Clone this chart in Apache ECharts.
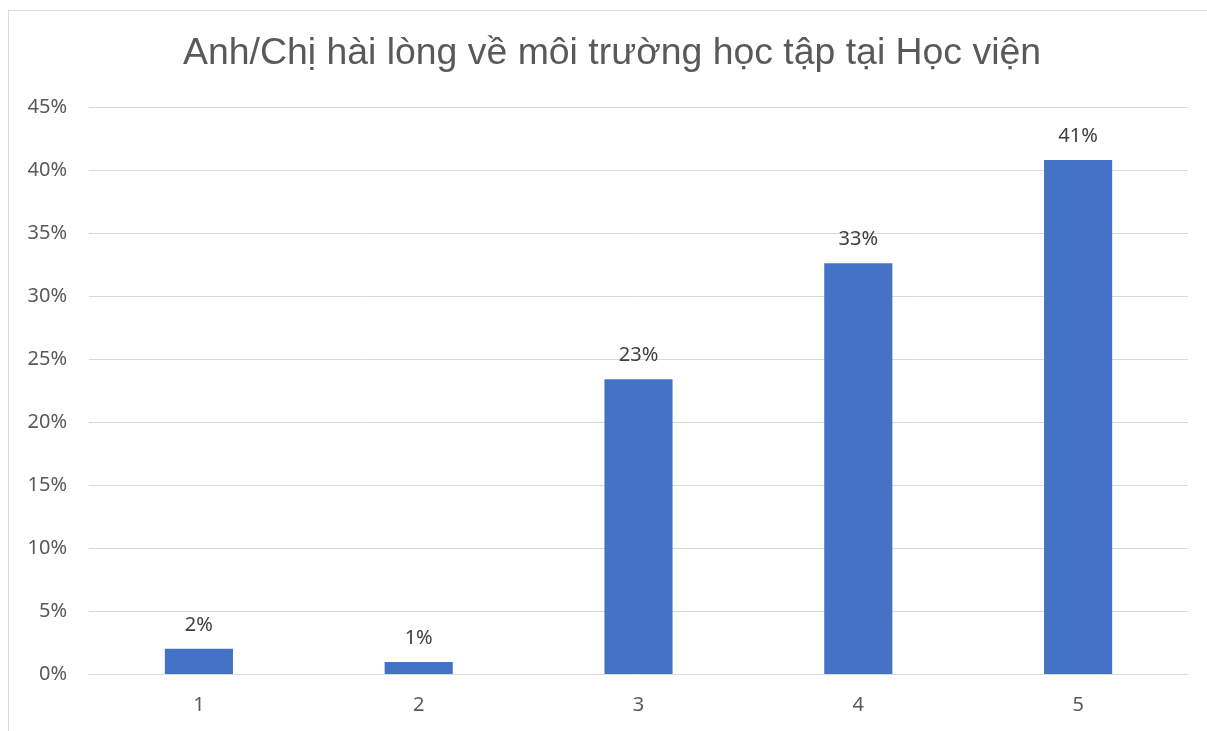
<!DOCTYPE html>
<html>
<head>
<meta charset="utf-8">
<script src="https://cdn.jsdelivr.net/npm/echarts@6/dist/echarts.min.js"></script>
<style>
  html, body { margin: 0; padding: 0; background: #fff; overflow: hidden; }
  #frame {
    position: absolute; left: 8px; top: 10px;
    width: 1220px; height: 740px;
    border: 1px solid #d9d9d9; box-sizing: border-box;
  }
  #chart { position: absolute; left: 0; top: 0; width: 1207px; height: 731px; }
</style>
</head>
<body>
<div id="frame"></div>
<div id="chart"></div>
<script>
// dữ liệu
const categories = ['1', '2', '3', '4', '5']
const percentages = [2.0, 0.95, 23.4, 32.6, 40.8]
const barLabels = ['2%', '1%', '23%', '33%', '41%']

const chart = echarts.init(document.getElementById('chart'))

const option = {
  animation: false,
  title: {
    text: 'Anh/Chị hài lòng về môi trường học tập tại Học viện',
    left: 178,
    top: 30,
    textStyle: {
      fontFamily: 'Liberation Sans',
      fontSize: 37.4,
      fontWeight: 'normal',
      color: '#595959'
    }
  },
  grid: {
    left: 89,
    right: 19,
    top: 107,
    bottom: 57
  },
  xAxis: {
    type: 'category',
    data: categories,
    axisLine: { lineStyle: { color: '#d9d9d9', width: 1 } },
    axisTick: { show: false },
    axisLabel: {
      margin: 21,
      fontFamily: 'Noto Sans',
      fontSize: 20,
      color: '#595959'
    }
  },
  yAxis: {
    type: 'value',
    min: 0,
    max: 45,
    interval: 5,
    axisLine: { show: false },
    axisTick: { show: false },
    splitLine: { lineStyle: { color: '#d9d9d9', width: 1 } },
    axisLabel: {
      margin: 22,
      formatter: '{value}%',
      fontFamily: 'Noto Sans',
      fontSize: 20,
      color: '#595959'
    }
  },
  series: [
    {
      type: 'bar',
      data: percentages,
      barWidth: '31%',
      itemStyle: { color: '#4472C4' },
      label: {
        show: true,
        position: 'top',
        distance: 14,
        formatter: p => barLabels[p.dataIndex],
        fontFamily: 'Noto Sans',
        fontSize: 20,
        color: '#404040'
      }
    }
  ]
}

chart.setOption(option)
</script>
</body>
</html>
